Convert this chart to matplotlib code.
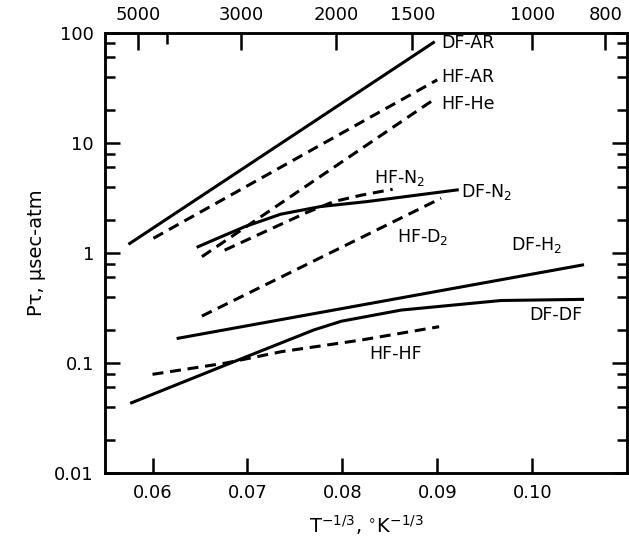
import numpy as np
import matplotlib
matplotlib.use('Agg')
import matplotlib.pyplot as plt
from matplotlib.ticker import FixedLocator, LogLocator, NullFormatter

# collision relaxation times, x = T^(-1/3), y = P*tau (usec-atm)
df_ar_x = [0.0576, 0.0896]
df_ar_y = [1.22, 81.6]
hf_ar_x = [0.0601, 0.0900]
hf_ar_y = [1.36, 37.4]
hf_he_x = [0.0652, 0.0896]
hf_he_y = [0.925, 24.6]
hf_n2_x = [0.0676, 0.0719, 0.0761, 0.0777, 0.0791, 0.0820, 0.0853]
hf_n2_y = [1.06, 1.57, 2.30, 2.62, 2.93, 3.35, 3.79]
df_n2_x = [0.0648, 0.0672, 0.0697, 0.0735, 0.0777, 0.0826, 0.0921]
df_n2_y = [1.14, 1.40, 1.73, 2.25, 2.64, 2.93, 3.74]
hf_d2_x = [0.0652, 0.0904]
hf_d2_y = [0.267, 3.14]
df_h2_x = [0.0627, 0.1053]
df_h2_y = [0.168, 0.778]
df_df_x = [0.0578, 0.0677, 0.0770, 0.0799, 0.0862, 0.0967, 0.1053]
df_df_y = [0.0436, 0.096, 0.20, 0.240, 0.303, 0.370, 0.379]
hf_hf_x = [0.0600, 0.0677, 0.0736, 0.0820, 0.0902]
hf_hf_y = [0.079, 0.100, 0.127, 0.162, 0.214]

# curve labels: text, x, y
labels = ['DF-AR', 'HF-AR', 'HF-He', 'HF-N$_2$', 'DF-N$_2$', 'HF-D$_2$',
          'DF-H$_2$', 'DF-DF', 'HF-HF']
lab_x = [0.0904, 0.0904, 0.0904, 0.0833, 0.0925, 0.0858, 0.0978, 0.0997, 0.0828]
lab_y = [81, 40, 22.6, 4.77, 3.61, 1.41, 1.18, 0.273, 0.121]

# temperature scale on top (deg K)
top_T = [5000, 3000, 2000, 1500, 1000, 800]
top_T_minor = [4300]
x_ticks = [0.06, 0.07, 0.08, 0.09, 0.10]
x_ticklabels = ['0.06', '0.07', '0.08', '0.09', '0.10']
y_ticks = [0.01, 0.1, 1, 10, 100]
y_ticklabels = ['0.01', '0.1', '1', '10', '100']

plt.rcParams['font.family'] = 'DejaVu Sans'
fig = plt.figure(figsize=(6.29, 5.56), dpi=100)
ax = fig.add_axes([0.167, 0.149, 0.830, 0.792])

lw = 2.2
dash = (0, (3.6, 2.2))
ax.plot(df_ar_x, df_ar_y, 'k-', lw=lw)
ax.plot(hf_ar_x, hf_ar_y, 'k', ls=dash, lw=lw)
ax.plot(hf_he_x, hf_he_y, 'k', ls=dash, lw=lw)
ax.plot(hf_n2_x, hf_n2_y, 'k', ls=dash, lw=lw)
ax.plot(df_n2_x, df_n2_y, 'k-', lw=lw)
ax.plot(hf_d2_x, hf_d2_y, 'k', ls=dash, lw=lw)
ax.plot(df_h2_x, df_h2_y, 'k-', lw=lw)
ax.plot(df_df_x, df_df_y, 'k-', lw=lw)
ax.plot(hf_hf_x, hf_hf_y, 'k', ls=dash, lw=lw)

for s, xx, yy in zip(labels, lab_x, lab_y):
    ax.text(xx, yy, s, fontsize=12.5, va='center', ha='left')

ax.set_yscale('log')
ax.set_xlim(0.055, 0.110)
ax.set_ylim(0.01, 100)

ax.xaxis.set_major_locator(FixedLocator(x_ticks))
ax.set_xticklabels(x_ticklabels)
ax.yaxis.set_major_locator(FixedLocator(y_ticks))
ax.set_yticklabels(y_ticklabels)
ax.yaxis.set_minor_locator(LogLocator(base=10, subs=[2, 4, 6, 8]))
ax.yaxis.set_minor_formatter(NullFormatter())

ax.tick_params(axis='both', which='major', direction='in', length=11, width=1.8,
               labelsize=13, pad=8)
ax.tick_params(axis='y', which='minor', direction='in', length=7, width=1.8)
ax.tick_params(axis='y', which='both', right=True)
ax.tick_params(axis='x', which='both', top=False)
for sp in ax.spines.values():
    sp.set_linewidth(1.8)

# top axis in temperature
ax2 = ax.twiny()
ax2.set_xlim(ax.get_xlim())
ax2.set_xticks(np.array(top_T, dtype=float) ** (-1 / 3))
ax2.set_xticklabels([str(t) for t in top_T])
ax2.set_xticks(np.array(top_T_minor, dtype=float) ** (-1 / 3), minor=True)
ax2.tick_params(axis='x', which='major', direction='in', length=12, width=1.8,
                labelsize=13, pad=6)
ax2.tick_params(axis='x', which='minor', direction='in', length=8, width=1.8)
for sp in ax2.spines.values():
    sp.set_linewidth(1.8)

ax.set_xlabel(r'T$^{-1/3}$, $^{\circ}$K$^{-1/3}$', fontsize=14, labelpad=8)
ax.set_ylabel('Pτ, μsec-atm', fontsize=14, labelpad=6)

fig.savefig('out.png', dpi=100)
